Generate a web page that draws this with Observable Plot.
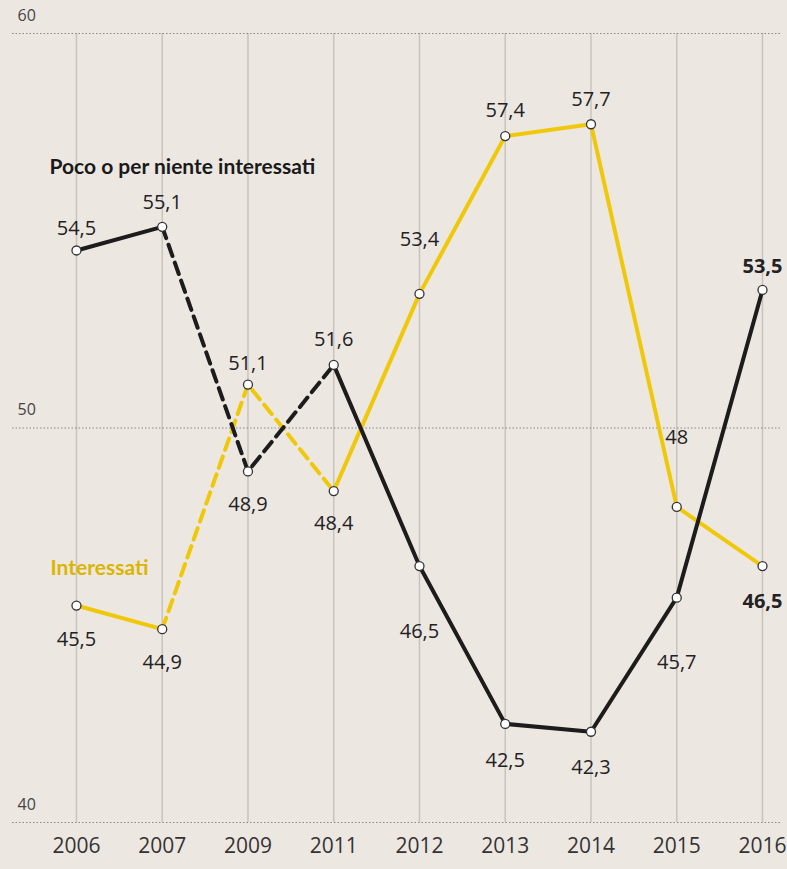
<!DOCTYPE html>
<html><head><meta charset="utf-8">
<script src="https://cdn.jsdelivr.net/npm/d3@7"></script>
<script src="https://cdn.jsdelivr.net/npm/@observablehq/plot@0.6"></script>
<style>
html,body{margin:0;padding:0;background:#ede7e2;}
#chart svg{display:block;}
</style></head><body><div id="chart"></div>
<script>
// ---- data ----
const years = ["2006","2007","2009","2011","2012","2013","2014","2015","2016"];
const poco = [54.5, 55.1, 48.9, 51.6, 46.5, 42.5, 42.3, 45.7, 53.5];
const interessati = [45.5, 44.9, 51.1, 48.4, 53.4, 57.4, 57.7, 48, 46.5];
const yTicks = [40, 50, 60];
const seriesNames = ["Poco o per niente interessati", "Interessati"];

// ---- layout config (not data) ----
const pocoLabelDy = [-22, -24, 33, -25, 66, 37, 36, 65, -23];
const intLabelDy  = [34, 33, -21, 32, -54, -25, -25, -69, 36];
const dashFrom = 1, dashTo = 3; // dashed between these year indices
const BLACK = "#1c1c1c", YELLOW = "#f0c80a", GOLD = "#dab600";

const idx = years.map((_, i) => i);
const fmt = v => String(v).replace(".", ",");
const mk = (vals, series, dys) => vals.map((v, i) => ({i, year: years[i], value: v, series, dy: dys[i]}));
const rowsP = mk(poco, seriesNames[0], pocoLabelDy);
const rowsI = mk(interessati, seriesNames[1], intLabelDy);

function seriesLines(rows, color) {
  return [
    Plot.lineY(rows.filter(d => d.i <= dashFrom), {x: "i", y: "value", stroke: color, strokeWidth: 4}),
    Plot.lineY(rows.filter(d => d.i >= dashFrom && d.i <= dashTo), {x: "i", y: "value", stroke: color, strokeWidth: 4, strokeDasharray: "12,7"}),
    Plot.lineY(rows.filter(d => d.i >= dashTo), {x: "i", y: "value", stroke: color, strokeWidth: 4})
  ];
}
function labels(rows) {
  return rows.map(d => Plot.text([d], {x: "i", y: "value", text: r => fmt(r.value), dy: d.dy,
      fontSize: 20, fill: "#222", fontWeight: d.i === years.length - 1 ? "bold" : "normal"}));
}

const allRows = rowsI.concat(rowsP);

const chart = Plot.plot({
  width: 787,
  height: 869,
  marginLeft: 12,
  marginRight: 7,
  marginTop: 33,
  marginBottom: 47,
  style: {background: "#ede7e2", fontFamily: "'Open Sans', sans-serif"},
  x: {type: "linear", domain: [-0.746, 8.21], axis: null},
  y: {domain: [40, 60], axis: null},
  marks: [
    Plot.ruleX(idx, {x: d => d, y1: 40, y2: 60, stroke: "#c9c3bd", strokeWidth: 1.5}),
    Plot.ruleY(yTicks, {y: d => d, stroke: "#8c8782", strokeWidth: 1, strokeDasharray: "1.5,2"}),
    Plot.text(yTicks, {y: d => d, frameAnchor: "left", dx: 5, dy: -18, textAnchor: "start", text: d => String(d), fontSize: 16, fill: "#444"}),
    Plot.text(idx, {x: d => d, frameAnchor: "bottom", dy: 30, text: d => years[d], fontSize: 21, fill: "#333"}),
    ...seriesLines(rowsI, YELLOW),
    ...seriesLines(rowsP, BLACK),
    Plot.dot(allRows, {x: "i", y: "value", r: 4.5, fill: "white", stroke: "#333", strokeWidth: 1.3}),
    ...labels(rowsP),
    ...labels(rowsI),
    Plot.text([seriesNames[0]], {frameAnchor: "top-left", dx: 37, dy: 126, text: d => d, textAnchor: "start",
      fontFamily: "Lato, sans-serif", fontWeight: "bold", fontSize: 21, fill: "#1a1a1a"}),
    Plot.text([seriesNames[1]], {frameAnchor: "top-left", dx: 38, dy: 527, text: d => d, textAnchor: "start",
      fontFamily: "Lato, sans-serif", fontWeight: "bold", fontSize: 21, fill: GOLD})
  ]
});
document.getElementById("chart").appendChild(chart);
</script>
</body></html>
